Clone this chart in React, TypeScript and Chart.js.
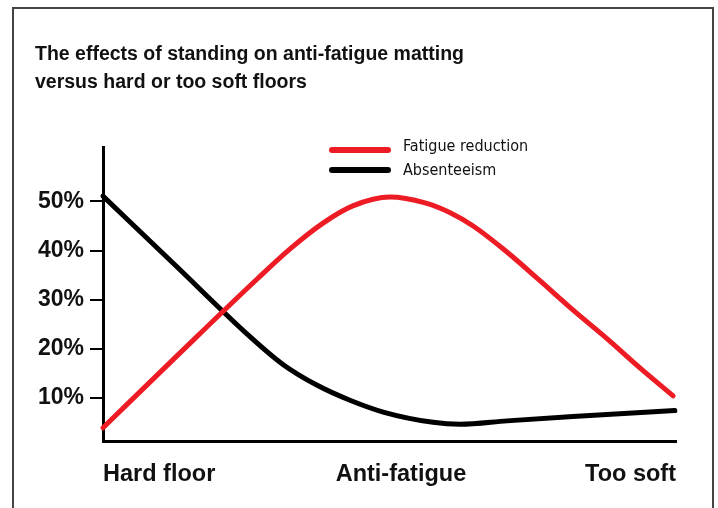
import { useEffect, useRef } from 'react';
import { Chart, registerables } from 'chart.js';

Chart.register(...registerables);

const titleLines = ['The effects of standing on anti-fatigue matting', 'versus hard or too soft floors'];
const categories = ['Hard floor', 'Anti-fatigue', 'Too soft'];
const categoryPositions = [0, 52, 100];
const yTickValues = [10, 20, 30, 40, 50];
const seriesNames = ['Fatigue reduction', 'Absenteeism'];
const seriesColors = ['#ED1C24', '#000000'];

const fatigueX = [0, 13.4, 26.9, 32.6, 38.4, 43.6, 50.1, 56.2, 60.6, 64.6, 70.5, 76.3, 82.0, 88.0, 93.7, 99.5];
const fatigueY = [3.9, 19.1, 34.2, 40.3, 45.6, 49.1, 50.9, 49.7, 47.7, 45.0, 39.7, 33.8, 27.9, 22.0, 16.1, 10.4];

const absentX = [0, 12.8, 25.7, 31.4, 37.3, 43.1, 48.9, 57.6, 62.3, 70.5, 82.0, 99.8];
const absentY = [51.1, 36.8, 22.4, 16.8, 12.6, 9.5, 7.1, 5.0, 4.6, 5.3, 6.2, 7.4];

const BOLD_FAMILY = "'Liberation Sans', Arial, Roboto, sans-serif";
const LEGEND_FAMILY = "'DejaVu Sans Condensed', 'Liberation Sans Narrow', sans-serif";

const framePlugin = {
  id: 'frame',
  beforeDraw(chart: any) {
    const ctx = chart.ctx;
    ctx.save();
    ctx.fillStyle = '#ffffff';
    ctx.fillRect(0, 0, chart.width, chart.height);
    ctx.strokeStyle = '#444444';
    ctx.lineWidth = 2;
    ctx.strokeRect(13, 8, 700, 540);
    ctx.restore();
  },
};

const stackedLegendPlugin = {
  id: 'stackedLegend',
  afterDraw(chart: any) {
    const ctx = chart.ctx;
    chart.data.datasets.forEach((ds: any, i: number) => {
      const lineY = 150 + i * 20;
      const textY = 151 + i * 24;
      ctx.save();
      ctx.strokeStyle = ds.borderColor;
      ctx.lineWidth = 6;
      ctx.lineCap = 'round';
      ctx.beginPath();
      ctx.moveTo(332, lineY);
      ctx.lineTo(388, lineY);
      ctx.stroke();
      ctx.fillStyle = '#111111';
      ctx.font = `16px ${LEGEND_FAMILY}`;
      ctx.textAlign = 'left';
      ctx.textBaseline = 'alphabetic';
      ctx.fillText(ds.label, 403, textY);
      ctx.restore();
    });
  },
};

export default function App() {
  const canvasRef = useRef<HTMLCanvasElement | null>(null);

  useEffect(() => {
    document.body.style.margin = '0';
    const canvas = canvasRef.current;
    if (!canvas) return;
    const chart = new Chart(canvas, {
      type: 'line',
      data: {
        datasets: [
          {
            label: seriesNames[0],
            data: fatigueX.map((x, i) => ({ x, y: fatigueY[i] })),
            borderColor: seriesColors[0],
            backgroundColor: seriesColors[0],
            borderWidth: 5,
            pointRadius: 0,
            cubicInterpolationMode: 'monotone',
            borderCapStyle: 'round',
            borderJoinStyle: 'round',
            clip: false,
          },
          {
            label: seriesNames[1],
            data: absentX.map((x, i) => ({ x, y: absentY[i] })),
            borderColor: seriesColors[1],
            backgroundColor: seriesColors[1],
            borderWidth: 5,
            pointRadius: 0,
            cubicInterpolationMode: 'monotone',
            borderCapStyle: 'round',
            borderJoinStyle: 'round',
            clip: false,
          },
        ],
      },
      options: {
        animation: false,
        responsive: false,
        maintainAspectRatio: false,
        layout: { padding: { left: 35, right: 42, top: 0, bottom: 0 } },
        plugins: {
          legend: { display: false },
          tooltip: { enabled: false },
          title: {
            display: true,
            text: titleLines,
            align: 'start',
            color: '#111111',
            font: { family: BOLD_FAMILY, size: 19.5, weight: 'bold', lineHeight: 28 / 19.5 },
            padding: { top: 41, bottom: 50 },
          },
        },
        scales: {
          x: {
            type: 'linear',
            min: 0,
            max: 100,
            afterFit: (scale: any) => {
              scale.height = 67;
            },
            afterBuildTicks: (scale: any) => {
              scale.ticks = categoryPositions.map((v) => ({ value: v }));
            },
            grid: { display: false, drawTicks: false },
            border: { display: true, color: '#000000', width: 3 },
            ticks: {
              autoSkip: false,
              maxRotation: 0,
              align: 'inner',
              padding: 19,
              color: '#111111',
              font: { family: BOLD_FAMILY, size: 23.5, weight: 'bold' },
              callback: (_v: any, index: number) => categories[index],
            },
          },
          y: {
            type: 'linear',
            min: 1.2,
            max: 61.1,
            afterFit: (scale: any) => {
              scale.width = 68;
            },
            afterBuildTicks: (scale: any) => {
              scale.ticks = yTickValues.map((v) => ({ value: v }));
            },
            grid: {
              display: true,
              drawOnChartArea: false,
              drawTicks: true,
              tickLength: 13,
              lineWidth: 2,
              color: '#000000',
            },
            border: { display: true, color: '#000000', width: 3 },
            ticks: {
              padding: 6,
              color: '#111111',
              font: { family: BOLD_FAMILY, size: 23, weight: 'bold' },
              callback: (v: any) => `${v}%`,
            },
          },
        },
      },
      plugins: [framePlugin, stackedLegendPlugin],
    } as any);
    return () => chart.destroy();
  }, []);

  return (
    <div style={{ position: 'fixed', left: 0, top: 0, width: 718, height: 508, background: '#ffffff' }}>
      <canvas ref={canvasRef} width={718} height={508} />
    </div>
  );
}
